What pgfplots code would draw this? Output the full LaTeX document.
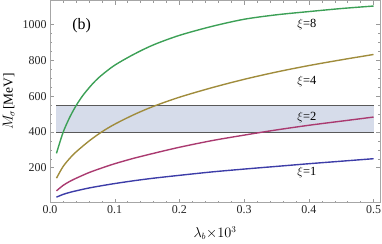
\documentclass[border=0pt]{standalone}
\usepackage{pgfplots}
\pgfplotsset{compat=1.18}
\usepackage{fontspec}
\setmainfont{Liberation Serif}
\definecolor{cblue}{RGB}{61,61,168}
\definecolor{cmag}{RGB}{170,58,112}
\definecolor{colive}{RGB}{160,140,60}
\definecolor{cgreen}{RGB}{60,160,86}
\definecolor{band}{RGB}{214,220,234}
\begin{document}
\begin{tikzpicture}
\begin{axis}[name=A,
  scale only axis, width=330bp, height=202bp,
  xmin=0, xmax=0.51, ymin=5, ymax=1135,
  axis line style={gray!70, line width=0.5pt},
  tick style={gray!80, line width=0.4pt},
  tick align=inside,
  major tick length=4bp, minor tick length=2bp,
  xtick={0,0.1,0.2,0.3,0.4,0.5},
  ytick={200,400,600,800,1000},
  minor x tick num=4, minor y tick num=3,
  xticklabel style={/pgf/number format/fixed,/pgf/number format/precision=1,/pgf/number format/fixed zerofill},
  /pgf/number format/assume math mode=true,
  /pgf/number format/1000 sep={},
  ticklabel style={font=\fontsize{12}{14}\selectfont, text=black!85},
  xtick pos=both, ytick pos=both,
  xticklabel pos=bottom, yticklabel pos=left,
  xlabel={$\lambda_b{\times}10^3$},
  ylabel={$M_\sigma$[MeV]},
  label style={font=\fontsize{13.5}{15}\selectfont},
  xlabel style={at={(axis description cs:0.5,-0.15)}, anchor=center},
  ylabel style={at={(axis description cs:-0.125,0.5)}, anchor=center},
  clip=false,
]
% band
\addplot[draw=none, fill=band] coordinates {(0.01,400) (0.5,400) (0.5,550) (0.01,550)} -- cycle;
\addplot[black!65, line width=0.7pt] coordinates {(0.01,400) (0.5,400)};
\addplot[black!65, line width=0.7pt] coordinates {(0.01,550) (0.5,550)};
% xi = 1
\addplot[cblue, line width=1.4pt, smooth] coordinates {
(0.01,35) (0.02,50) (0.03,61) (0.04,70) (0.06,86) (0.08,99) (0.10,111) (0.13,127) (0.16,141) (0.20,157) (0.25,176) (0.30,192) (0.35,207) (0.40,222) (0.45,236) (0.50,250)};
% xi = 2
\addplot[cmag, line width=1.4pt, smooth] coordinates {
(0.01,70) (0.02,100) (0.03,122) (0.04,140) (0.06,172) (0.08,198) (0.10,222) (0.13,253) (0.16,280) (0.20,314) (0.25,351) (0.30,382) (0.35,411) (0.40,437) (0.45,460) (0.50,483)};
% xi = 4
\addplot[colive, line width=1.4pt, smooth] coordinates {
(0.01,141) (0.02,205) (0.03,250) (0.04,287) (0.06,348) (0.08,400) (0.10,443) (0.13,497) (0.16,543) (0.20,594) (0.25,647) (0.30,694) (0.35,735) (0.40,771) (0.45,803) (0.50,833)};
% xi = 8
\addplot[cgreen, line width=1.4pt, smooth] coordinates {
(0.01,280) (0.02,395) (0.03,478) (0.04,545) (0.05,600) (0.06,645) (0.07,685) (0.08,718) (0.10,773) (0.13,835) (0.16,887) (0.20,940) (0.25,990) (0.30,1030) (0.35,1055) (0.40,1073) (0.45,1090) (0.50,1104)};
\node[font=\fontsize{12.5}{14}\selectfont] at (axis cs:0.397,1002) {$\xi$=8};
\node[font=\fontsize{12.5}{14}\selectfont] at (axis cs:0.397,680) {$\xi$=4};
\node[font=\fontsize{12.5}{14}\selectfont] at (axis cs:0.397,481) {$\xi$=2};
\node[font=\fontsize{12.5}{14}\selectfont] at (axis cs:0.397,172) {$\xi$=1};
\node[font=\fontsize{16}{18}\selectfont] at (axis cs:0.049,996) {(b)};
\end{axis}
\pgfresetboundingbox
\path ([xshift=-50bp,yshift=-40.5bp]A.south west) rectangle ([xshift=2bp,yshift=0.5bp]A.north east);
\end{tikzpicture}
\end{document}
